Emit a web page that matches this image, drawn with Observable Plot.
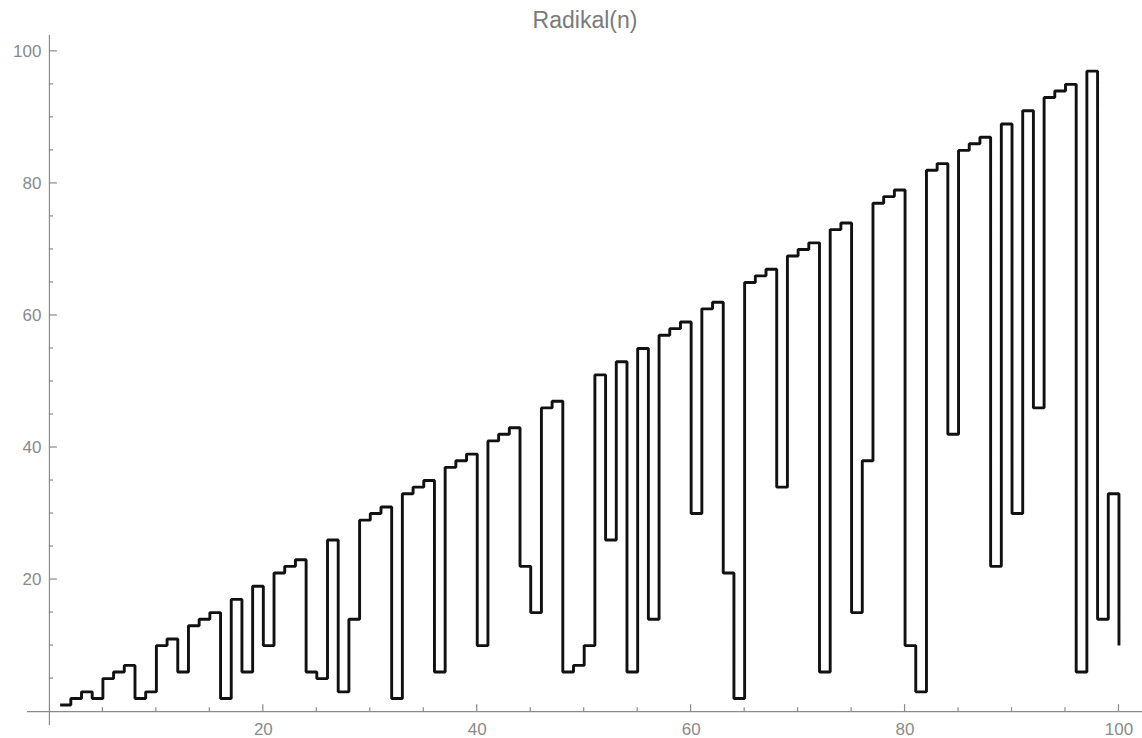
<!DOCTYPE html>
<html><head><meta charset="utf-8">
<script src="https://cdn.jsdelivr.net/npm/d3@7"></script>
<script src="https://cdn.jsdelivr.net/npm/@observablehq/plot@0.6"></script>
<style>body{margin:0;background:#fff} svg{display:block}</style>
</head><body><div id="chart"></div>
<script>
const title = "Radikal(n)";
const n = [1,2,3,4,5,6,7,8,9,10,11,12,13,14,15,16,17,18,19,20,
  21,22,23,24,25,26,27,28,29,30,31,32,33,34,35,36,37,38,39,40,
  41,42,43,44,45,46,47,48,49,50,51,52,53,54,55,56,57,58,59,60,
  61,62,63,64,65,66,67,68,69,70,71,72,73,74,75,76,77,78,79,80,
  81,82,83,84,85,86,87,88,89,90,91,92,93,94,95,96,97,98,99,100];
const radical = [1,2,3,2,5,6,7,2,3,10,11,6,13,14,15,2,17,6,19,10,
  21,22,23,6,5,26,3,14,29,30,31,2,33,34,35,6,37,38,39,10,
  41,42,43,22,15,46,47,6,7,10,51,26,53,6,55,14,57,58,59,30,
  61,62,21,2,65,66,67,34,69,70,71,6,73,74,15,38,77,78,79,10,
  3,82,83,42,85,86,87,22,89,30,91,46,93,94,95,6,97,14,33,10];
const xMajorTicks = [20,40,60,80,100];
const xMinorTicks = [5,10,15,25,30,35,45,50,55,65,70,75,85,90,95];
const yMajorTicks = [20,40,60,80,100];
const yMinorTicks = [5,10,15,25,30,35,45,50,55,65,70,75,85,90,95];

const data = n.map((v, i) => ({n: v, rad: radical[i]}));
const axisColor = "#8a8a8a";
const labelColor = "#8a8a8a";

function tickMarks(index, scales) {
  const x = scales.x, y = scales.y;
  const g = d3.create("svg:g").attr("stroke", axisColor).attr("stroke-width", 1.2);
  const x0 = x(0), y0 = y(0);
  for (const t of xMajorTicks) g.append("line").attr("x1", x(t)).attr("x2", x(t)).attr("y1", y0).attr("y2", y0 - 7);
  for (const t of xMinorTicks) g.append("line").attr("x1", x(t)).attr("x2", x(t)).attr("y1", y0).attr("y2", y0 - 4);
  for (const t of yMajorTicks) g.append("line").attr("y1", y(t)).attr("y2", y(t)).attr("x1", x0).attr("x2", x0 + 8);
  for (const t of yMinorTicks) g.append("line").attr("y1", y(t)).attr("y2", y(t)).attr("x1", x0).attr("x2", x0 + 4);
  return g.node();
}

const chart = Plot.plot({
  width: 1142,
  height: 738,
  marginLeft: 27,
  marginRight: 0,
  marginTop: 35,
  marginBottom: 13,
  style: {fontFamily: "'Liberation Sans', Arial, sans-serif", background: "#fff"},
  x: {domain: [-2.05, 102.2], axis: null},
  y: {domain: [-2.1, 102.4], axis: null},
  marks: [
    Plot.ruleX([0], {stroke: axisColor, strokeWidth: 1.2}),
    Plot.ruleY([0], {stroke: axisColor, strokeWidth: 1.2}),
    tickMarks,
    Plot.line(data, {x: "n", y: "rad", curve: "step-after", stroke: "#111", strokeWidth: 2.9, strokeLinejoin: "miter", strokeLinecap: "butt"}),
    Plot.text(xMajorTicks, {x: d => d, y: 0, dy: 18, text: d => String(d), fill: labelColor, fontSize: 17}),
    Plot.text(yMajorTicks, {x: 0, y: d => d, dx: -8, textAnchor: "end", text: d => String(d), fill: labelColor, fontSize: 17}),
    Plot.text([title], {frameAnchor: "top", lineAnchor: "middle", dy: -15, text: d => d, fill: "#7a7a7a", fontSize: 23})
  ]
});
document.getElementById("chart").append(chart);
</script>
</body></html>
